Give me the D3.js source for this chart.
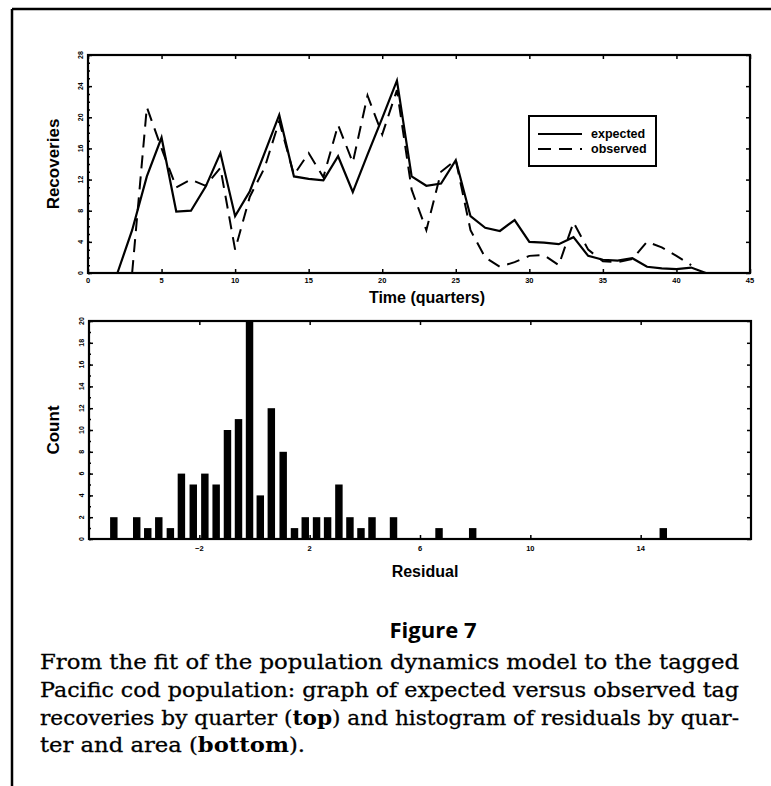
<!DOCTYPE html>
<html>
<head>
<meta charset="utf-8">
<script src="https://cdn.jsdelivr.net/npm/d3@7"></script>
<style>
body { margin: 0; background: #fff; }
svg { display: block; }
</style>
</head>
<body>
<svg id="fig" width="771" height="786"></svg>
<script>
// top panel: tag recoveries per quarter
const expQuarters = [2,3,4,5,6,7,8,9,10,11,12,13,14,15,16,17,18,19,20,21,22,23,24,25,26,27,28,29,30,31,32,33,34,35,36,37,38,39,40,41,42];
const expected = [0,5.5,12.4,17.4,7.9,8,11.1,15.4,7.3,10.5,15.4,20.3,12.4,12.1,11.9,15,10.4,15.2,19.9,24.7,12.4,11.2,11.5,14.5,7.3,5.8,5.4,6.8,4.0,3.9,3.7,4.6,2.2,1.7,1.6,1.9,0.8,0.6,0.5,0.7,0];
const obsQuarters = [3,4,5,6,7,8,9,10,11,12,13,14,15,16,17,18,19,20,21,22,23,24,25,26,27,28,29,30,31,32,33,34,35,36,37,38,39,40,41];
const observed = [0,21.3,16,11,12,11.2,13.5,3,9.8,13.5,19.5,12.6,15.4,12.3,19,14.2,22.8,17.8,23.5,10.7,5.5,13,14.5,5.5,2,0.8,1.4,2.2,2.3,1.0,6.5,3.0,1.5,1.4,1.8,4.0,3.3,2.2,1.0];
const topXTicks = [0,5,10,15,20,25,30,35,40,45];
const topYTicks = [0,4,8,12,16,20,24,28];

// bottom panel: histogram of residuals
const residualBins = [-5.1,-4.27,-3.87,-3.47,-3.05,-2.65,-2.22,-1.8,-1.39,-0.98,-0.58,-0.18,0.21,0.61,1.04,1.45,1.84,2.25,2.65,3.06,3.46,3.86,4.26,5.04,6.69,7.91,14.82];
const residualCounts = [2,2,1,2,1,6,5,6,5,10,11,20,4,12,8,1,2,2,2,5,2,1,2,2,1,1,1];
const botXTicks = [-2,2,6,10,14];
const botYTicks = [0,2,4,6,8,10,12,14,16,18,20];

const captionLines = [
    [["From the fit of the population dynamics model to the tagged", false]],
    [["Pacific cod population: graph of expected versus observed tag", false]],
    [["recoveries by quarter (", false], ["top", true], [") and histogram of residuals by quar-", false]],
    [["ter and area (", false], ["bottom", true], [").", false]]
];

const svg = d3.select("#fig");
const sans = "'Liberation Sans', Arial, sans-serif";

// page frame (left and top rules)
svg.append("line").attr("x1", 12).attr("y1", 9).attr("x2", 771).attr("y2", 9)
    .attr("stroke", "#000").attr("stroke-width", 2.5);
svg.append("line").attr("x1", 12).attr("y1", 9).attr("x2", 12).attr("y2", 786)
    .attr("stroke", "#000").attr("stroke-width", 2.5);

function styleAxis(g) {
    g.select(".domain").remove();
    g.selectAll(".tick line").attr("stroke", "#000").attr("stroke-width", 1.5);
}

function panel(opts) {
    const {x, y, xTicks, yTicks, xLabelY, yLabelX, xTitle, xTitleX, xTitleY, yTitle} = opts;
    const [x0, x1] = x.range();
    const [y0, y1] = y.range();
    const g = svg.append("g");

    // inward ticks on all four sides
    g.append("g").attr("transform", `translate(0,${y0})`)
        .call(d3.axisBottom(x).tickValues(xTicks).tickSize(-4).tickFormat("")).call(styleAxis);
    g.append("g").attr("transform", `translate(0,${y1})`)
        .call(d3.axisTop(x).tickValues(xTicks).tickSize(-4).tickFormat("")).call(styleAxis);
    g.append("g").attr("transform", `translate(${x0},0)`)
        .call(d3.axisLeft(y).tickValues(yTicks).tickSize(-4).tickFormat("")).call(styleAxis);
    g.append("g").attr("transform", `translate(${x0},0)`)
        .call(d3.axisLeft(y).tickValues(d3.range(y.domain()[0], y.domain()[1] + 1)).tickSize(-2).tickFormat("")).call(styleAxis);
    g.append("g").attr("transform", `translate(${x1},0)`)
        .call(d3.axisRight(y).tickValues(yTicks).tickSize(-4).tickFormat("")).call(styleAxis);

    g.append("rect").attr("x", x0).attr("y", y1).attr("width", x1 - x0).attr("height", y0 - y1)
        .attr("fill", "none").attr("stroke", "#000").attr("stroke-width", 2.2);

    g.selectAll(".xl").data(xTicks).join("text")
        .attr("x", d => x(d)).attr("y", xLabelY)
        .attr("text-anchor", "middle").attr("dominant-baseline", "central")
        .attr("font-family", sans).attr("font-weight", "bold").attr("font-size", 7.5)
        .text(d => d < 0 ? "\u2212" + Math.abs(d) : d);

    g.selectAll(".yl").data(yTicks).join("text")
        .attr("transform", d => `translate(${yLabelX},${y(d)}) rotate(-90)`)
        .attr("text-anchor", "middle").attr("dominant-baseline", "central")
        .attr("font-family", sans).attr("font-weight", "bold").attr("font-size", 7)
        .text(d => d);

    g.append("text").attr("x", xTitleX).attr("y", xTitleY)
        .attr("text-anchor", "middle")
        .attr("font-family", sans).attr("font-weight", "bold").attr("font-size", 16)
        .text(xTitle);
    g.append("text")
        .attr("transform", `translate(53,${(y0 + y1) / 2}) rotate(-90)`)
        .attr("text-anchor", "middle").attr("dominant-baseline", "central")
        .attr("font-family", sans).attr("font-weight", "bold").attr("font-size", 17)
        .text(yTitle);
    return g;
}

// ---- top: expected vs observed ----
const xTop = d3.scaleLinear().domain([0, 45]).range([88, 750]);
const yTop = d3.scaleLinear().domain([0, 28]).range([273, 55]);
const topPanel = panel({x: xTop, y: yTop, xTicks: topXTicks, yTicks: topYTicks,
    xLabelY: 280, yLabelX: 80, xTitle: "Time (quarters)", xTitleX: 427, xTitleY: 303,
    yTitle: "Recoveries"});

const line = d3.line().x(d => xTop(d[0])).y(d => yTop(d[1]));
topPanel.append("path").datum(d3.zip(expQuarters, expected))
    .attr("d", line).attr("fill", "none").attr("stroke", "#000").attr("stroke-width", 2.2)
    .attr("stroke-linejoin", "miter");
topPanel.append("path").datum(d3.zip(obsQuarters, observed))
    .attr("d", line).attr("fill", "none").attr("stroke", "#000").attr("stroke-width", 2)
    .attr("stroke-dasharray", "13,8");

// legend
const leg = topPanel.append("g").attr("transform", "translate(529,116)");
leg.append("rect").attr("width", 127).attr("height", 50)
    .attr("fill", "#fff").attr("stroke", "#000").attr("stroke-width", 2);
[["expected", null], ["observed", "13,8"]].forEach(([name, dash], i) => {
    leg.append("line").attr("x1", 9).attr("x2", 53).attr("y1", 18 + i * 15).attr("y2", 18 + i * 15)
        .attr("stroke", "#000").attr("stroke-width", 2).attr("stroke-dasharray", dash);
    leg.append("text").attr("x", 62).attr("y", 18 + i * 15)
        .attr("dominant-baseline", "central")
        .attr("font-family", sans).attr("font-weight", "bold").attr("font-size", 12.5)
        .text(name);
});

// ---- bottom: residual histogram ----
const xBot = d3.scaleLinear().domain([-6, 18]).range([89, 751]);
const yBot = d3.scaleLinear().domain([0, 20]).range([539, 321]);
const botPanel = panel({x: xBot, y: yBot, xTicks: botXTicks, yTicks: botYTicks,
    xLabelY: 548, yLabelX: 81, xTitle: "Residual", xTitleX: 425, xTitleY: 577,
    yTitle: "Count"});

const barW = xBot(0.27) - xBot(0);
botPanel.selectAll(".bar").data(d3.zip(residualBins, residualCounts)).join("rect")
    .attr("x", d => xBot(d[0]) - barW / 2)
    .attr("y", d => yBot(d[1]))
    .attr("width", barW)
    .attr("height", d => yBot(0) - yBot(d[1]))
    .attr("fill", "#000");

// ---- caption ----
svg.append("text").attr("x", 433).attr("y", 638)
    .attr("text-anchor", "middle")
    .attr("font-family", "'Open Sans', sans-serif").attr("font-weight", "bold").attr("font-size", 22)
    .text("Figure 7");

// justified lines, last one left ragged
const capBase = [669, 697, 725, 752];
const capWidth = [699, 699, 699, 265];
captionLines.forEach((parts, i) => {
    const t = svg.append("text").attr("x", 40).attr("y", capBase[i])
        .attr("font-family", "'DejaVu Serif', serif").attr("font-size", 20)
        .attr("textLength", capWidth[i]).attr("lengthAdjust", "spacingAndGlyphs");
    parts.forEach(([s, b]) => {
        const sp = t.append("tspan").attr("font-weight", b ? "bold" : "normal").text(s);
        if (!b) sp.attr("stroke", "#000").attr("stroke-width", 0.3);
    });
});
</script>
</body>
</html>
